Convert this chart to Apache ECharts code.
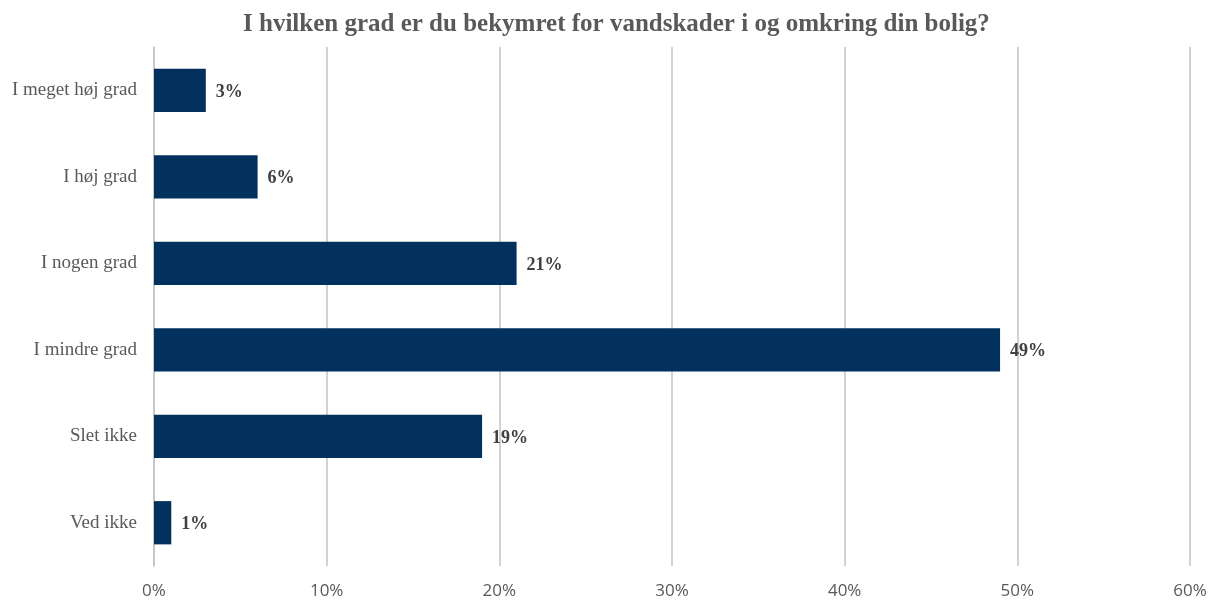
<!DOCTYPE html>
<html><head><meta charset="utf-8">
<script src="https://cdn.jsdelivr.net/npm/echarts@6/dist/echarts.min.js"></script>
<style>html,body{margin:0;padding:0;background:#fff}#c{width:1211px;height:601px}</style>
</head><body><div id="c"></div>
<script>
const titleText = "I hvilken grad er du bekymret for vandskader i og omkring din bolig?";
const categories = ["I meget høj grad", "I høj grad", "I nogen grad", "I mindre grad", "Slet ikke", "Ved ikke"];
const values = [3, 6, 21, 49, 19, 1];
const tickMax = 60;
const tickStep = 10;

const chart = echarts.init(document.getElementById('c'), null, {renderer: 'canvas'});
chart.setOption({
  animation: false,
  backgroundColor: '#ffffff',
  title: {
    text: titleText,
    left: 238, top: 7,
    textStyle: {fontFamily: 'Liberation Serif', fontWeight: 'bold', fontSize: 25, color: '#595959'}
  },
  grid: {left: 154, right: 21, top: 47, bottom: 35, containLabel: false},
  xAxis: {
    type: 'value', min: 0, max: tickMax, interval: tickStep,
    axisLine: {show: false}, axisTick: {show: false},
    splitLine: {show: true, lineStyle: {color: '#c3c3c3', width: 1.5}},
    axisLabel: {formatter: v => v + '%', fontFamily: 'Open Sans', fontSize: 17, color: '#595959', margin: 17}
  },
  yAxis: {
    type: 'category', data: categories, inverse: true,
    axisLine: {show: true, lineStyle: {color: '#c3c3c3', width: 1.5}},
    axisTick: {show: false},
    axisLabel: {fontFamily: 'Liberation Serif', fontSize: 19, color: '#595959', margin: 17}
  },
  series: [{
    type: 'bar', data: values, barCategoryGap: '50%',
    itemStyle: {color: '#02315E'},
    label: {show: true, position: 'right', distance: 10, offset: [0, 2], formatter: p => p.value + '%',
      fontFamily: 'Liberation Serif', fontWeight: 'bold', fontSize: 18, color: '#404040'}
  }]
});
</script></body></html>
